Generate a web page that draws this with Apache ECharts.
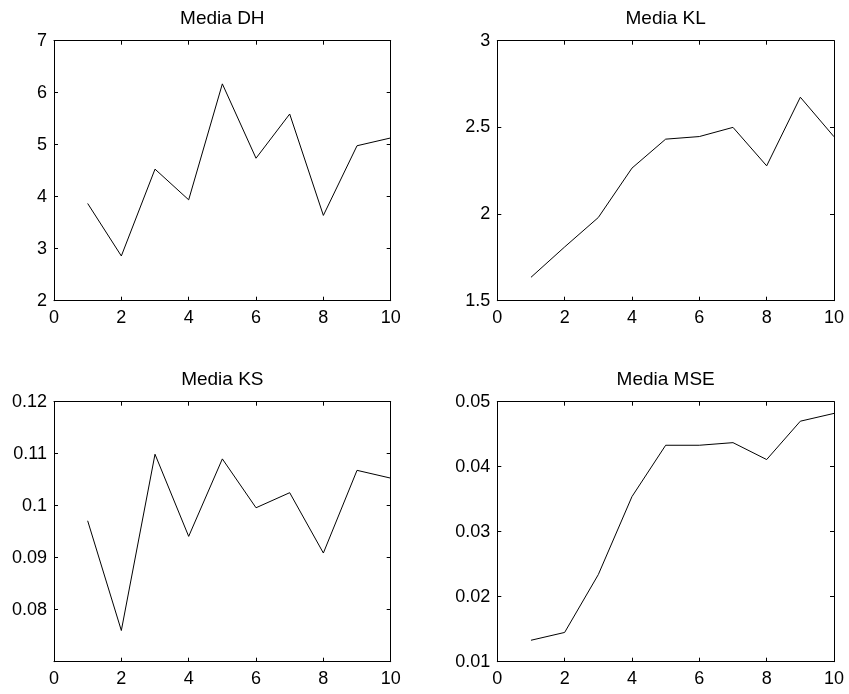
<!DOCTYPE html>
<html>
<head>
<meta charset="utf-8">
<script src="https://cdn.jsdelivr.net/npm/echarts@6/dist/echarts.min.js"></script>
<style>
html,body{margin:0;padding:0;background:#fff;}
#chart{width:849px;height:694px;}
</style>
</head>
<body>
<div id="chart"></div>
<script>
const xValues = [1, 2, 3, 4, 5, 6, 7, 8, 9, 10];
const titles = ["Media DH", "Media KL", "Media KS", "Media MSE"];
const dhValues = [3.87, 2.86, 4.53, 3.94, 6.17, 4.74, 5.59, 3.64, 4.98, 5.13];
const klValues = [1.635, 1.81, 1.98, 2.265, 2.432, 2.447, 2.50, 2.278, 2.674, 2.446];
const ksValues = [0.0971, 0.0760, 0.1099, 0.0941, 0.1090, 0.0996, 0.1025, 0.0909, 0.1068, 0.1053];
const mseValues = [0.0133, 0.0145, 0.0234, 0.0354, 0.0433, 0.0433, 0.0437, 0.0411, 0.0470, 0.0482];
const yRanges = [
  {min: 2, max: 7, interval: 1},
  {min: 1.5, max: 3, interval: 0.5},
  {min: 0.07, max: 0.12, interval: 0.01},
  {min: 0.01, max: 0.05, interval: 0.01}
];
const xRange = {min: 0, max: 10, interval: 2};
const allValues = [dhValues, klValues, ksValues, mseValues];

const FONT = '"Liberation Sans", Arial, Helvetica, sans-serif';
const grids = [
  {left: 54, top: 40.7, width: 336.7, height: 260},
  {left: 497.3, top: 40.7, width: 336.7, height: 260},
  {left: 54, top: 401.7, width: 336.7, height: 260},
  {left: 497.3, top: 401.7, width: 336.7, height: 260}
];

const lineStyle = {color: '#000', width: 1};
const tick = {show: true, inside: true, length: 4, lineStyle: {color: '#000', width: 1}};
const xAxes = [], yAxes = [], series = [], titleOpts = [];

grids.forEach((g, i) => {
  xAxes.push({
    type: 'value', gridIndex: i, position: 'bottom',
    min: xRange.min, max: xRange.max, interval: xRange.interval,
    axisLine: {show: true, onZero: false, lineStyle: lineStyle},
    axisTick: tick, splitLine: {show: false},
    axisLabel: {show: true, color: '#000', fontSize: 18, fontFamily: FONT, margin: 8}
  });
  xAxes.push({
    type: 'value', gridIndex: i, position: 'top',
    min: xRange.min, max: xRange.max, interval: xRange.interval,
    axisLine: {show: true, onZero: false, lineStyle: lineStyle},
    axisTick: tick, splitLine: {show: false}, axisLabel: {show: false}
  });
  const yr = yRanges[i];
  yAxes.push({
    type: 'value', gridIndex: i, position: 'left',
    min: yr.min, max: yr.max, interval: yr.interval,
    axisLine: {show: true, onZero: false, lineStyle: lineStyle},
    axisTick: tick, splitLine: {show: false},
    axisLabel: {show: true, color: '#000', fontSize: 18, fontFamily: FONT, margin: 7,
      showMinLabel: i !== 2}
  });
  yAxes.push({
    type: 'value', gridIndex: i, position: 'right',
    min: yr.min, max: yr.max, interval: yr.interval,
    axisLine: {show: true, onZero: false, lineStyle: lineStyle},
    axisTick: tick, splitLine: {show: false}, axisLabel: {show: false}
  });
  series.push({
    type: 'line', xAxisIndex: 2 * i, yAxisIndex: 2 * i,
    data: xValues.map((x, k) => [x, allValues[i][k]]),
    showSymbol: false, symbol: 'none',
    lineStyle: {color: '#000', width: 1}, animation: false, silent: true
  });
  titleOpts.push({
    text: titles[i],
    left: g.left + g.width / 2 - 5, top: g.top - 36,
    textAlign: 'center',
    textStyle: {color: '#000', fontSize: 19, fontWeight: 'normal', fontFamily: FONT}
  });
});

const chart = echarts.init(document.getElementById('chart'), null, {renderer: 'canvas'});
chart.setOption({
  backgroundColor: '#fff',
  animation: false,
  title: titleOpts,
  grid: grids,
  xAxis: xAxes,
  yAxis: yAxes,
  series: series
});
</script>
</body>
</html>
